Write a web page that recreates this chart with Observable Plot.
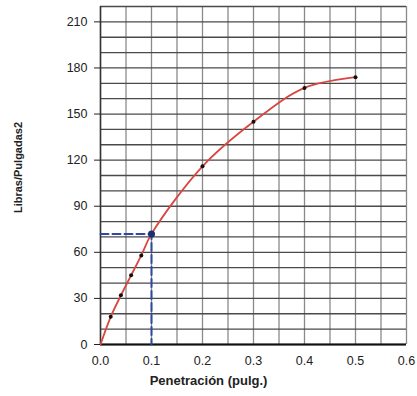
<!DOCTYPE html>
<html><head><meta charset="utf-8">
<script src="https://cdn.jsdelivr.net/npm/d3@7"></script>
<script src="https://cdn.jsdelivr.net/npm/@observablehq/plot@0.6"></script>
<style>
body{margin:0;background:#fff}
</style>
</head><body><div id="chart"></div>
<script>
// Data
const penetration = [0, 0.02, 0.04, 0.06, 0.08, 0.1, 0.2, 0.3, 0.4, 0.5];
const load = [0, 18, 32, 45, 58, 72, 116, 145, 167, 174];
const refPenetration = 0.1;
const refLoad = 72;
const xTicks = [0, 0.1, 0.2, 0.3, 0.4, 0.5, 0.6];
const yTicks = [0, 30, 60, 90, 120, 150, 180, 210];
const xGridStep = 0.05;
const yGridStep = 10;
const xMax = 0.6;
const yMax = 220;
const xLabel = "Penetración (pulg.)";
const yLabel = "Libras/Pulgadas2";

const data = penetration.map((x, i) => ({x, y: load[i]}));
const xGrid = d3.range(0, xMax + 1e-9, xGridStep);
const yGrid = d3.range(0, yMax + 1e-9, yGridStep);
const refPath = [
  {x: 0, y: refLoad},
  {x: refPenetration, y: refLoad},
  {x: refPenetration, y: 0}
];
const smallDots = data.filter(d => d.x !== 0 && d.x !== refPenetration);

const chart = Plot.plot({
  width: 417,
  height: 396,
  marginLeft: 100,
  marginRight: 11,
  marginTop: 6,
  marginBottom: 52,
  style: {fontFamily: "'Liberation Sans', Arial, sans-serif", fontSize: "12px", background: "#fff", color: "#222"},
  x: {domain: [0, xMax]},
  y: {domain: [0, yMax]},
  marks: [
    Plot.ruleX(xGrid, {stroke: "#8a8a8a", strokeWidth: 1.3}),
    Plot.ruleY(yGrid, {stroke: "#4a4a4a", strokeWidth: 1.3}),
    Plot.ruleX([0], {stroke: "#333", strokeWidth: 1.5}),
    Plot.ruleY([0], {stroke: "#111", strokeWidth: 2}),
    Plot.line(refPath, {x: "x", y: "y", stroke: "#2c4a9e", strokeWidth: 2, strokeDasharray: "8,4"}),
    Plot.line(data, {x: "x", y: "y", stroke: "#d8473f", strokeWidth: 1.8, curve: "catmull-rom"}),
    Plot.dot(smallDots, {x: "x", y: "y", r: 2, fill: "#111"}),
    Plot.dot([{x: refPenetration, y: refLoad}], {x: "x", y: "y", r: 3.5, fill: "#1d2f6e"}),
    Plot.axisY({ticks: yTicks, tickSize: 6, tickPadding: 7, label: null, fontSize: 12.5}),
    Plot.axisX({ticks: xTicks, tickFormat: d3.format(".1f"), tickSize: 0, tickPadding: 12, label: null, fontSize: 12.5}),
    Plot.text([yLabel], {frameAnchor: "left", textAnchor: "middle", rotate: -90, dx: -82, dy: -8, fontWeight: "bold", fontSize: 11, fill: "#222"}),
    Plot.text([xLabel], {frameAnchor: "bottom", textAnchor: "middle", dx: -45, dy: 40, fontWeight: "bold", fontSize: 13, fill: "#222"})
  ]
});
document.getElementById("chart").appendChild(chart);
</script>
</body></html>
